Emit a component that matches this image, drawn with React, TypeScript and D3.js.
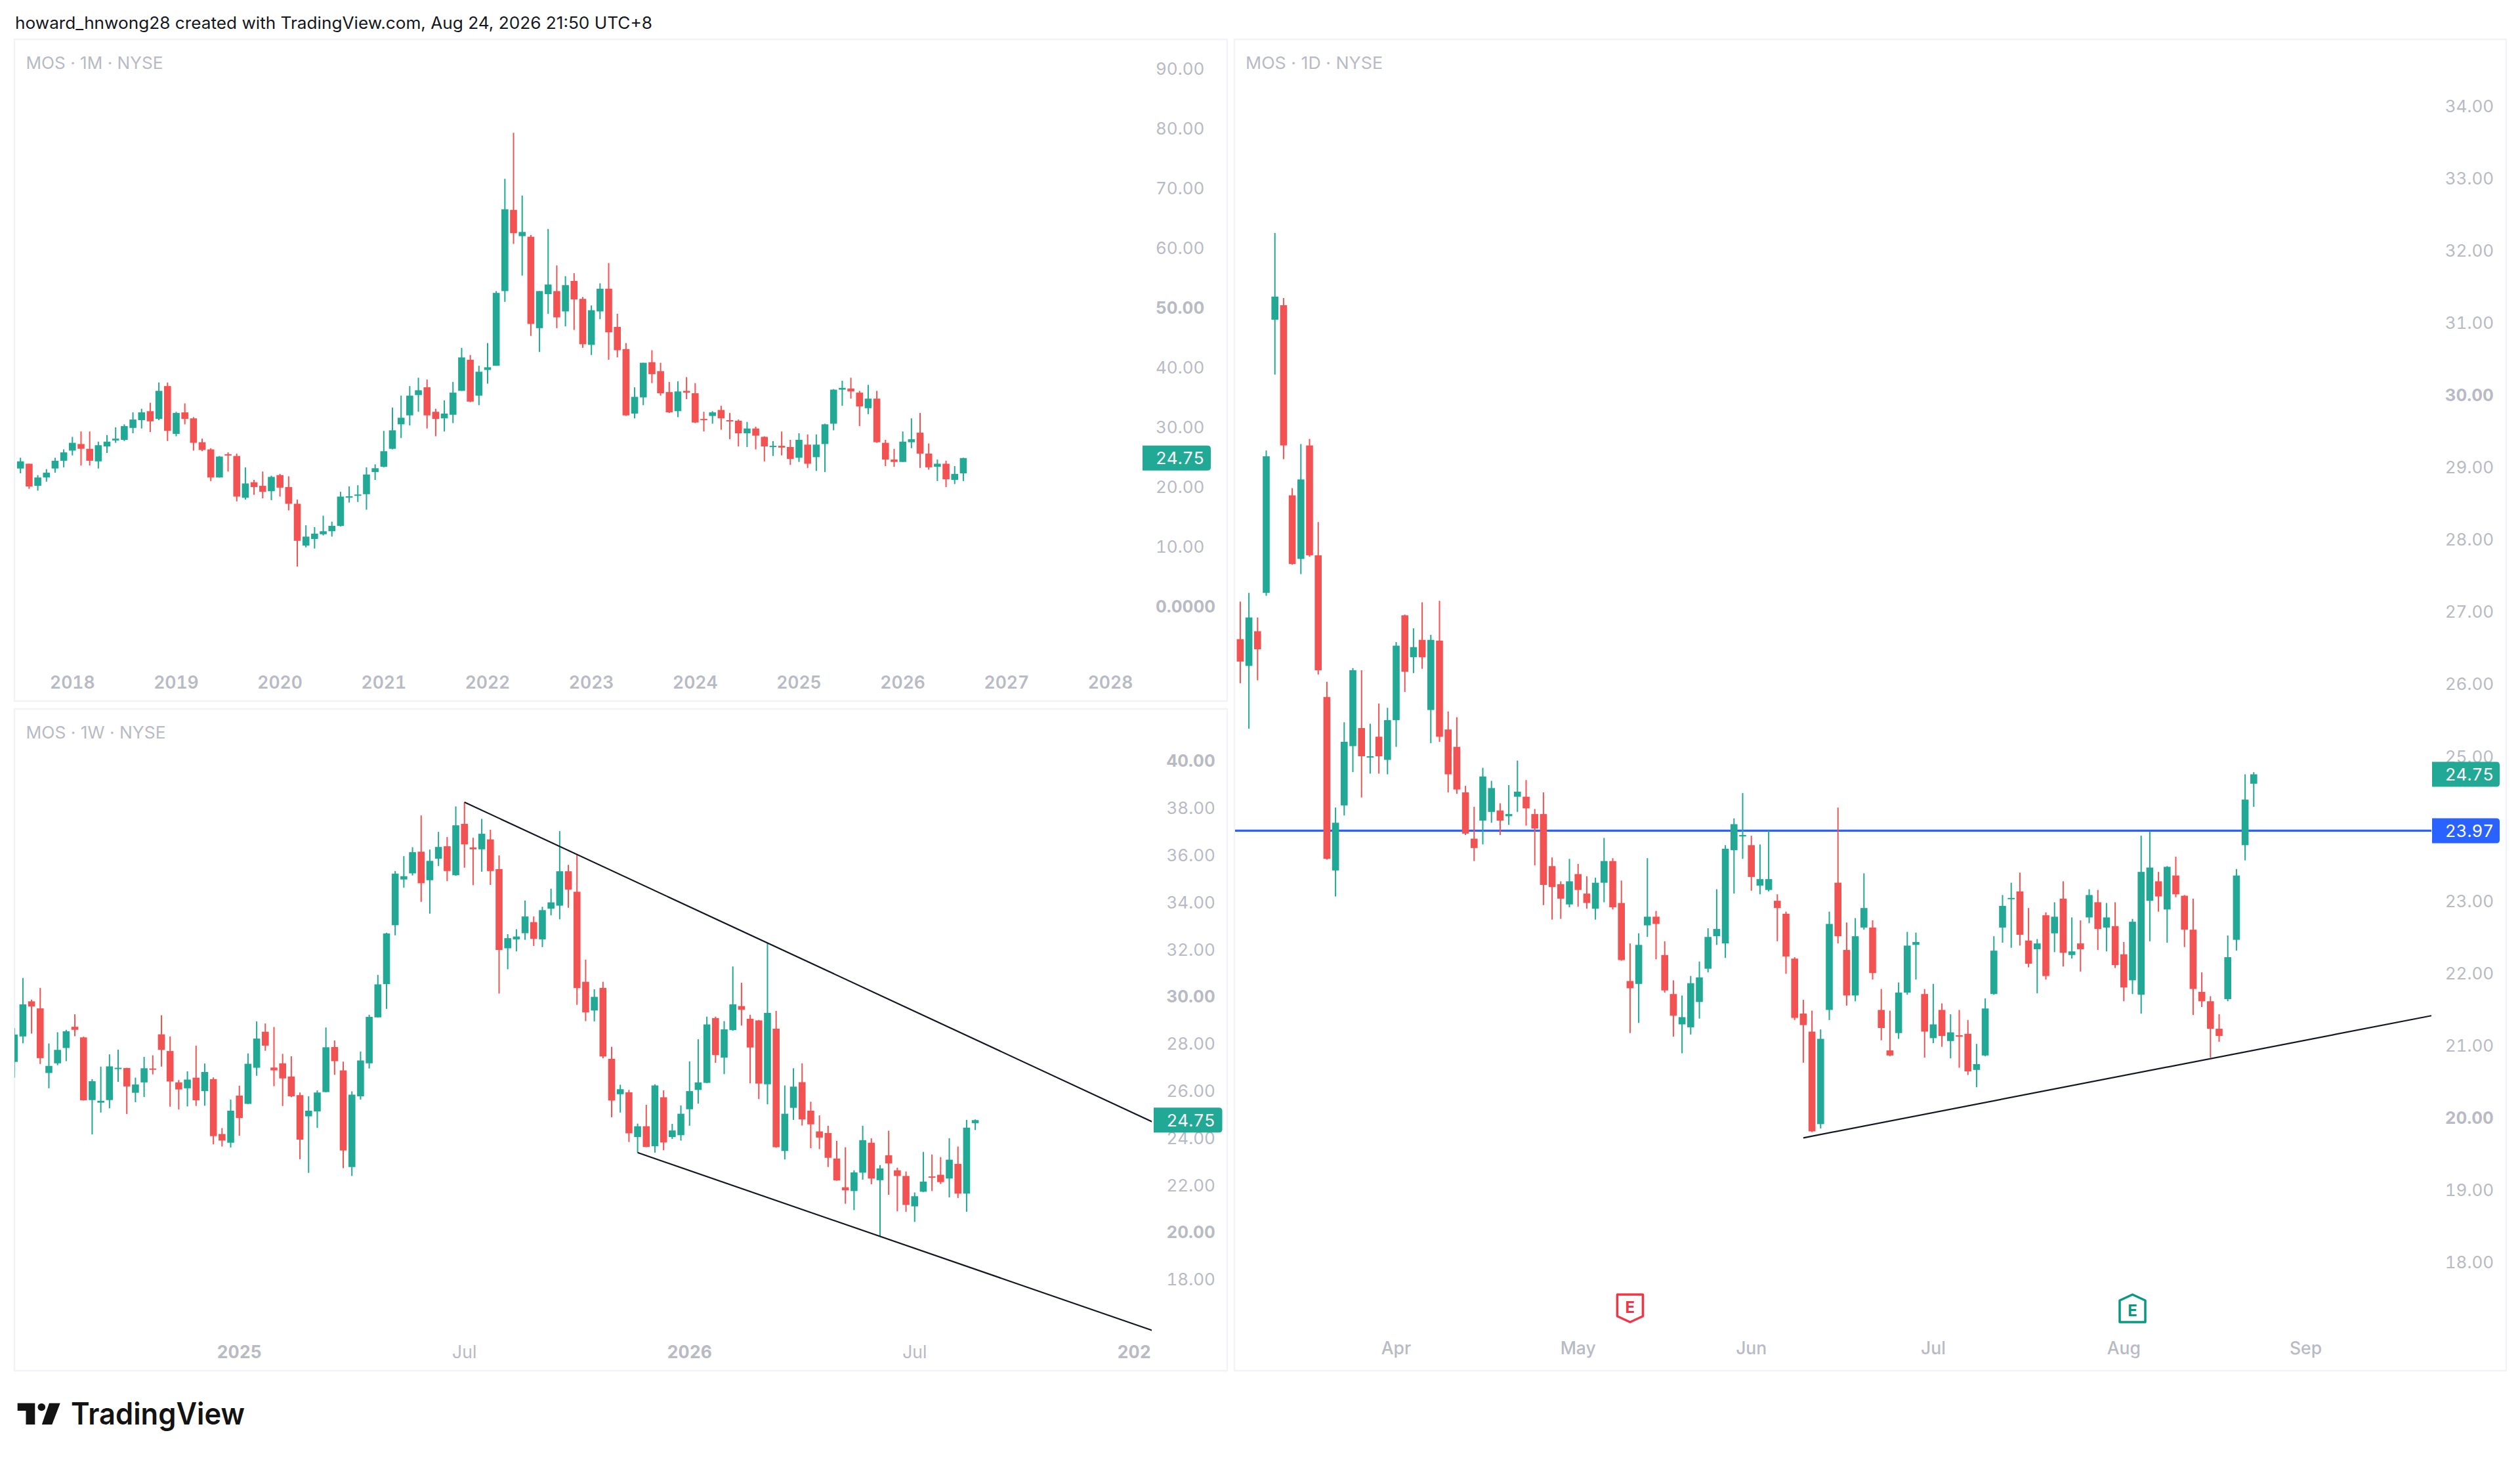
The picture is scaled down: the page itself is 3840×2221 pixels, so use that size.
import React from "react";
import * as d3 from "d3";

type Bar = [number, number, number, number]; // open, high, low, close

const headerText = "howard_hnwong28 created with TradingView.com, Aug 24, 2026 21:50 UTC+8";
const lastPrice = 24.75;
const levelPrice = 23.97;

const monthlyBars: Bar[] = [
[23.0,24.8,22.2,24.2],[23.8,23.8,19.6,20.0],[20.1,21.9,19.3,21.5],[21.5,22.9,20.8,22.3],[23.0,24.8,22.3,24.3],[24.3,26.2,23.2,25.7],
[26.0,28.3,25.2,27.3],[27.1,29.2,23.5,26.3],[26.3,29.2,23.5,24.3],[24.2,27.5,23.0,26.9],[26.7,28.6,25.6,27.5],[27.7,29.9,27.3,28.0],
[27.8,30.4,27.6,30.1],[29.8,32.4,28.9,31.2],[31.1,33.0,29.7,32.4],[32.6,34.0,29.1,30.9],[31.3,37.4,31.1,36.0],[36.8,37.4,27.6,29.3],
[28.8,32.5,28.4,32.3],[32.4,33.9,30.4,31.3],[31.4,31.6,26.0,27.3],[27.4,28.0,25.9,26.1],[26.2,26.4,20.9,21.5],[21.5,25.1,21.5,25.0],
[25.4,25.7,22.5,25.2],[25.1,25.5,17.5,18.3],[18.1,23.2,17.8,20.5],[20.7,21.1,18.6,19.9],[20.1,22.5,18.0,19.1],[19.2,21.8,17.7,21.6],
[21.9,22.1,18.3,19.8],[19.9,21.7,16.0,17.1],[17.1,17.8,6.6,10.9],[10.1,13.5,9.8,11.6],[11.2,13.2,9.6,12.1],[12.0,15.1,11.8,12.5],
[12.5,14.1,11.6,13.4],[13.4,19.1,13.3,18.3],[18.3,20.0,17.3,18.35],[18.55,20.2,17.4,18.65],[18.7,23.2,16.1,22.0],[22.4,23.7,21.1,23.05],
[23.3,29.3,23.2,25.9],[26.3,33.2,26.2,29.4],[30.4,35.2,28.1,31.5],[31.9,36.8,30.2,35.2],[35.3,38.2,32.5,36.1],[36.6,37.9,29.7,31.9],
[32.5,33.0,28.4,31.3],[31.4,34.4,29.2,32.2],[32.0,37.5,30.6,35.7],[36.0,43.2,36.0,41.6],[41.2,42.0,34.1,34.2],[35.2,40.2,33.6,39.2],
[39.5,44.0,37.2,39.95],[40.2,52.7,40.2,52.4],[52.7,71.5,50.9,66.4],[66.3,79.2,60.6,62.4],[61.9,68.7,55.3,62.6],[61.8,62.1,45.2,47.2],
[46.5,52.7,42.5,52.7],[52.2,63.1,48.9,53.8],[52.7,57.0,46.5,48.3],[49.3,55.2,46.8,53.7],[54.4,55.7,46.2,51.3],[51.4,51.7,43.2,43.8],
[43.7,50.3,42.0,49.5],[49.3,54.0,48.0,53.1],[53.1,57.4,41.2,45.8],[46.7,48.9,41.6,42.8],[43.0,44.0,31.8,31.9],[32.2,36.6,31.4,35.0],
[34.9,40.7,33.6,40.7],[40.8,42.8,37.3,38.8],[39.3,40.7,35.2,35.6],[35.8,37.5,32.3,32.4],[32.6,37.6,31.6,35.9],[36.0,38.3,34.6,35.7],
[35.6,37.3,30.6,30.7],[31.3,32.5,29.2,31.25],[31.8,32.6,30.5,32.4],[32.8,33.5,29.5,31.4],[31.1,32.3,27.9,30.9],[31.0,31.2,26.7,28.9],
[28.9,30.8,26.6,29.7],[29.7,30.0,26.2,28.5],[28.3,28.4,24.2,26.7],[26.7,27.6,25.1,26.8],[26.8,29.2,25.2,26.5],[26.6,27.8,23.6,24.6],
[24.8,28.9,24.1,27.8],[27.0,28.7,23.1,23.8],[24.9,28.7,22.6,27.0],[27.1,30.5,22.4,30.4],[30.5,36.3,29.4,36.2],[36.2,37.7,33.5,36.5],
[36.4,38.2,34.7,35.9],[35.7,36.0,30.1,33.4],[33.1,37.0,32.1,34.7],[34.7,36.0,27.3,27.4],[27.3,27.8,23.4,24.5],[24.5,26.3,23.3,24.1],
[24.1,29.2,24.1,27.5],[27.4,31.4,26.4,27.9],[29.0,32.3,23.1,25.5],[25.5,27.2,22.8,23.2],[23.3,24.5,20.9,23.8],[23.8,24.3,19.9,21.2],
[21.1,23.4,20.4,22.1],[22.2,24.8,20.9,24.75],
];

const weeklyBars: Bar[] = [
[27.22,28.66,26.55,28.38],[28.30,30.78,28.01,29.66],[29.79,29.86,28.42,29.57],[29.49,30.36,27.13,27.38],[26.75,28.00,26.10,27.05],[27.16,28.48,27.08,27.73],
[27.81,28.58,27.25,28.52],[28.71,29.24,28.31,28.58],[28.26,28.29,25.58,25.59],[25.60,26.49,24.14,26.40],[25.49,27.02,25.07,25.57],[25.60,27.54,25.25,27.03],
[26.94,27.74,26.37,26.97],[26.96,26.97,25.01,26.18],[25.91,26.55,25.51,26.26],[26.35,27.43,25.73,26.95],[26.94,27.50,26.69,26.90],[28.39,29.20,27.02,27.73],
[27.68,28.30,25.32,26.39],[26.35,26.45,25.20,26.05],[26.10,26.82,25.33,26.47],[26.55,27.91,25.35,25.59],[25.98,27.15,25.36,26.79],[26.49,26.56,23.72,24.07],
[24.16,24.41,23.63,23.88],[23.79,25.62,23.59,25.15],[25.79,26.21,24.09,24.84],[25.44,27.58,25.43,27.14],[26.97,28.94,26.63,28.21],[28.50,28.85,27.69,27.91],
[26.98,28.70,26.19,26.86],[27.16,27.56,25.35,26.52],[26.60,27.46,25.72,25.76],[25.81,25.92,23.09,23.92],[24.91,25.76,22.51,25.15],[25.12,26.01,24.42,25.92],
[25.94,28.68,25.93,27.84],[27.85,28.13,26.67,27.25],[26.86,27.23,22.71,23.46],[22.76,25.97,22.38,25.83],[25.76,27.66,25.62,27.28],[27.16,29.22,26.94,29.13],
[29.11,30.91,29.10,30.51],[30.52,32.70,29.47,32.67],[33.02,35.32,32.59,35.21],[34.96,35.95,34.61,35.10],[35.22,36.33,35.13,36.12],[36.14,37.68,34.01,34.80],
[34.93,36.23,33.51,35.75],[35.84,36.98,35.53,36.34],[36.37,36.76,34.89,35.32],[35.14,38.06,35.12,37.26],[37.32,38.24,35.46,36.45],[36.32,36.73,34.72,36.24],
[36.24,37.53,35.29,36.90],[36.66,37.07,34.73,35.32],[35.40,35.98,30.12,31.97],[32.04,32.64,31.15,32.47],[32.42,32.85,31.91,32.54],[32.68,34.07,32.40,33.39],
[33.15,33.39,32.14,32.44],[32.42,33.80,32.09,33.66],[33.72,34.57,33.44,33.99],[33.85,37.01,33.27,35.31],[35.31,35.58,33.76,34.53],[34.44,36.01,29.64,30.35],
[30.62,31.56,28.95,29.32],[29.40,30.30,28.94,29.98],[30.36,30.62,27.37,27.45],[27.35,27.86,24.87,25.58],[25.85,26.25,25.07,26.06],[25.93,26.03,23.82,24.19],
[24.03,24.60,23.37,24.49],[24.49,25.40,23.60,23.61],[23.64,26.27,23.37,26.22],[25.72,26.01,23.47,23.80],[24.03,24.59,23.95,24.31],[24.11,25.37,23.88,25.02],
[25.21,27.24,24.51,25.98],[26.03,28.18,25.45,26.35],[26.33,29.14,26.32,28.81],[29.08,29.14,27.18,27.51],[27.40,28.95,26.70,28.60],[28.57,31.27,28.54,29.66],
[29.59,30.58,28.76,29.43],[29.05,29.22,26.31,27.83],[28.98,29.00,25.64,26.30],[26.27,32.26,25.42,29.30],[28.63,29.38,23.58,23.60],[23.44,26.22,23.08,25.02],
[25.27,26.95,24.76,26.17],[26.36,27.16,24.52,24.78],[25.15,25.53,23.56,24.57],[24.27,24.95,23.52,24.01],[24.20,24.51,22.76,23.15],[23.12,23.87,22.18,22.19],
[21.90,23.60,21.20,21.77],[21.74,22.62,20.93,22.53],[22.52,24.51,22.22,23.90],[23.79,23.98,22.03,22.27],[22.20,22.84,19.81,22.70],[23.26,24.30,21.58,22.91],
[22.62,22.73,20.88,22.38],[22.38,22.57,20.86,21.15],[21.09,21.68,20.43,21.52],[21.71,23.40,21.70,22.14],[22.36,23.29,21.74,22.34],[22.43,23.18,22.04,22.12],
[22.27,23.98,21.47,23.07],[22.89,23.63,21.44,21.63],[21.63,24.76,20.86,24.43],[24.62,24.78,24.33,24.75],
];

const dailyBars: Bar[] = [
[26.62,27.14,26.01,26.31],[26.25,27.26,25.38,26.92],[26.73,26.92,26.05,26.48],[27.26,29.23,27.22,29.15],[31.04,32.24,30.28,31.36],[31.24,31.34,29.11,29.30],
[28.61,28.71,27.65,27.66],[27.73,29.32,27.52,28.83],[29.30,29.39,27.76,27.78],[27.78,28.24,26.13,26.19],[25.82,26.03,23.57,23.58],[23.42,24.29,23.06,24.08],
[24.32,25.47,24.18,25.20],[25.14,26.22,24.78,26.19],[25.39,26.19,24.43,25.00],[24.99,25.45,24.76,25.00],[25.27,25.73,24.76,25.00],[24.95,25.67,24.75,25.50],
[25.50,26.58,25.13,26.53],[26.95,26.96,25.89,26.17],[26.37,26.77,26.15,26.51],[26.61,27.13,26.21,26.37],[25.64,26.68,25.18,26.61],[26.60,27.15,25.20,25.27],
[25.37,25.62,24.50,24.75],[25.13,25.54,24.48,24.54],[24.50,24.59,23.91,23.93],[23.86,24.30,23.55,23.73],[24.11,24.84,23.78,24.72],[24.23,24.66,24.08,24.56],
[24.25,24.35,23.91,24.11],[24.17,24.60,24.05,24.20],[24.44,24.94,24.23,24.51],[24.44,24.67,24.04,24.28],[24.20,24.27,23.49,24.00],[24.20,24.50,22.94,23.22],
[23.48,23.60,22.74,23.19],[23.23,23.27,22.75,23.03],[22.95,23.58,22.91,23.27],[23.37,23.51,22.92,23.15],[23.10,23.34,22.89,22.97],[22.89,23.32,22.74,23.25],
[23.25,23.87,22.98,23.55],[23.55,23.59,22.88,22.91],[22.97,23.28,22.17,22.18],[21.89,22.41,21.17,21.79],[21.85,22.55,21.31,22.39],[22.66,23.59,22.50,22.78],
[22.78,22.86,22.19,22.68],[22.25,22.44,21.73,21.76],[21.71,21.90,21.12,21.41],[21.29,21.69,20.89,21.39],[21.25,21.96,21.15,21.86],[21.60,22.16,21.37,21.94],
[22.06,22.62,22.01,22.50],[22.51,23.16,22.39,22.61],[22.41,23.77,22.21,23.72],[23.70,24.14,23.10,24.06],[23.89,24.49,23.58,23.91],[23.77,23.90,23.14,23.33],
[23.21,23.78,23.09,23.30],[23.15,23.97,23.13,23.30],[23.00,23.09,22.44,22.90],[22.82,22.85,21.99,22.23],[22.20,22.22,21.35,21.38],[21.44,21.63,20.76,21.28],
[21.19,21.48,19.80,19.81],[19.91,21.22,19.85,21.09],[21.49,22.85,21.35,22.68],[23.25,24.29,22.41,22.51],[22.32,22.70,21.55,21.69],[21.69,22.76,21.61,22.51],
[22.63,23.38,22.60,22.90],[22.63,22.73,21.91,22.00],[21.49,21.78,21.07,21.24],[20.93,21.48,20.85,20.86],[21.17,21.87,21.09,21.73],[21.73,22.57,21.70,22.38],
[22.39,22.56,21.91,22.43],[21.71,21.78,20.83,21.19],[21.10,21.85,21.03,21.29],[21.49,21.58,20.98,21.13],[21.06,21.43,20.82,21.18],[21.14,21.49,20.69,21.12],
[21.16,21.35,20.59,20.64],[20.66,21.02,20.42,20.74],[20.86,21.65,20.85,21.51],[21.71,22.51,21.70,22.31],[22.63,23.08,22.42,22.93],[23.03,23.25,22.35,23.04],
[23.13,23.39,22.38,22.53],[22.45,22.90,22.08,22.13],[22.33,22.47,21.72,22.41],[22.80,22.84,21.91,21.96],[22.55,22.98,22.29,22.78],[23.03,23.27,22.09,22.28],
[22.25,22.77,22.20,22.30],[22.41,22.73,22.02,22.33],[22.77,23.16,22.69,23.08],[22.98,23.15,22.32,22.61],[22.63,22.97,22.30,22.77],[22.65,22.98,22.07,22.11],
[22.26,22.43,21.61,21.80],[21.90,22.75,21.71,22.71],[21.70,23.90,21.44,23.40],[23.00,23.96,22.44,23.46],[23.27,23.40,22.85,23.06],[22.88,23.48,22.42,23.47],
[23.35,23.61,23.05,23.09],[23.07,23.08,22.36,22.60],[22.60,23.03,21.42,21.78],[21.74,22.01,21.53,21.61],[21.61,21.68,20.83,21.23],[21.23,21.43,21.05,21.13],
[21.64,22.52,21.61,22.22],[22.46,23.44,22.31,23.35],[23.77,24.75,23.56,24.40],[24.62,24.78,24.30,24.75],
];

const monthlyPriceTicks = [90, 80, 70, 60, 50, 40, 30, 20, 10];
const monthlyBoldTicks = [50];
const monthlyTimeIdx = [6, 18, 30, 42, 54, 66, 78, 90, 102, 114, 126];
const monthlyTimeLabels = ["2018", "2019", "2020", "2021", "2022", "2023", "2024", "2025", "2026", "2027", "2028"];

const weeklyPriceTicks = [40, 38, 36, 34, 32, 30, 28, 26, 24, 22, 20, 18];
const weeklyBoldTicks = [40, 30, 20];
const weeklyTimeIdx = [26, 52, 78, 104, 130];
const weeklyTimeLabels = ["2025", "Jul", "2026", "Jul", "2027"];
const weeklyBoldTimes = ["2025", "2026", "2027"];
const weeklyUpperTrend: [number, number][] = [[52, 38.24], [131.5, 24.67]];
const weeklyLowerTrend: [number, number][] = [[72, 23.37], [131.5, 15.82]];

const dailyPriceTicks = [34, 33, 32, 31, 30, 29, 28, 27, 26, 25, 24, 23, 22, 21, 20, 19, 18];
const dailyBoldTicks = [30, 20];
const dailyTimeIdx = [18, 39, 59, 80, 102, 123];
const dailyTimeLabels = ["Apr", "May", "Jun", "Jul", "Aug", "Sep"];
const dailySupport: [number, number][] = [[65, 19.72], [137.5, 21.41]];
const earningsIdx = [45, 103];
const earningsKind = ["past", "next"];

const GREEN = "#22a995";
const RED = "#f35252";
const MUTED = "#b8bac4";
const BORDER = "#f1f3f8";
const FONT = "Inter, 'Noto Sans', sans-serif";
const TABULAR = { fontVariantNumeric: "tabular-nums" } as React.CSSProperties;

const xM = d3.scaleLinear().domain([6, 126]).range([110.3, 1692]);
const yM = d3.scaleLinear().domain([0, 90]).range([923, 104]);
const xW = d3.scaleLinear().domain([0, 104]).range([21.7, 1393.75]);
const yW = d3.scaleLinear().domain([20, 40]).range([1876.8, 1158.8]);
const xD = d3.scaleLinear().domain([0, 117]).range([1889.9, 3434.3]);
const yD = d3.scaleLinear().domain([20, 30]).range([1702.5, 601.5]);

type Scale = d3.ScaleLinear<number, number>;

function Candles({ bars, x, y }: { bars: Bar[]; x: Scale; y: Scale }) {
  const w = 10.6;
  return (
    <g>
      {bars.map(([o, h, l, c], i) => {
        const col = c >= o ? GREEN : RED;
        const top = y(Math.max(o, c));
        const bot = y(Math.min(o, c));
        const cx = x(i);
        return (
          <g key={i}>
            <line x1={cx} x2={cx} y1={y(h)} y2={y(l)} stroke={col} strokeWidth={2} />
            <rect x={cx - w / 2} y={top} width={w} height={Math.max(bot - top, 2)} fill={col} />
          </g>
        );
      })}
    </g>
  );
}

function Trend({ pts, x, y }: { pts: [number, number][]; x: Scale; y: Scale }) {
  const path = d3.line<[number, number]>().x((d) => x(d[0])).y((d) => y(d[1]))(pts) as string;
  return <path d={path} fill="none" stroke="#131722" strokeWidth={2.2} />;
}

function Badge({ x0, x1, cy, text, fill, tx }: { x0: number; x1: number; cy: number; text: string; fill: string; tx: number }) {
  const h = 38;
  const r = 5;
  const d = `M${x0},${cy - h / 2}H${x1 - r}Q${x1},${cy - h / 2} ${x1},${cy - h / 2 + r}V${cy + h / 2 - r}Q${x1},${cy + h / 2} ${x1 - r},${cy + h / 2}H${x0}Z`;
  return (
    <g>
      <path d={d} fill={fill} />
      <text x={tx} y={cy} fill="#fff" fontSize={26} fontFamily={FONT} style={TABULAR} dominantBaseline="central">{text}</text>
    </g>
  );
}

function PriceLabels({ ticks, bold, y, x }: { ticks: number[]; bold: number[]; y: Scale; x: number }) {
  return (
    <g>
      {ticks.map((t) => (
        <text key={t} x={x} y={y(t)} fill={MUTED} fontSize={26} fontWeight={bold.includes(t) ? 700 : 400}
          fontFamily={FONT} style={TABULAR} dominantBaseline="central">{t.toFixed(2)}</text>
      ))}
    </g>
  );
}

function TimeLabels({ idx, labels, x, y, weightOf }: { idx: number[]; labels: string[]; x: Scale; y: number; weightOf: (s: string) => number }) {
  return (
    <g>
      {idx.map((v, i) => (
        <text key={labels[i] + v} x={x(v)} y={y} fill={MUTED} fontSize={26.5} fontWeight={weightOf(labels[i])}
          fontFamily={FONT} style={TABULAR} textAnchor="middle" dominantBaseline="central">{labels[i]}</text>
      ))}
    </g>
  );
}

function EarningsMark({ cx, cy, kind }: { cx: number; cy: number; kind: string }) {
  const col = kind === "past" ? "#f23645" : "#089981";
  const up = kind !== "past";
  const hw = 19.5, hh = 21, tip = 9;
  const d = up
    ? `M${cx},${cy - hh}L${cx + hw},${cy - hh + tip}V${cy + hh}H${cx - hw}V${cy - hh + tip}Z`
    : `M${cx},${cy + hh}L${cx + hw},${cy + hh - tip}V${cy - hh}H${cx - hw}V${cy + hh - tip}Z`;
  return (
    <g>
      <path d={d} fill="#fff" stroke={col} strokeWidth={3.5} strokeLinejoin="round" />
      <text x={cx} y={cy + (up ? 3 : -2)} fill={col} fontSize={24} fontWeight={700} fontFamily={FONT}
        textAnchor="middle" dominantBaseline="central">E</text>
    </g>
  );
}

export default function App() {
  return (
    <svg width={3840} height={2221} viewBox="0 0 3840 2221"
      style={{ position: "absolute", left: 0, top: 0, display: "block", background: "#fff" }}>
      <defs>
        <clipPath id="wclip"><rect x={22} y={1080} width={1733} height={1008} /></clipPath>
      </defs>
      <rect width={3840} height={2221} fill="#fff" />
      <text x={23} y={35} fontSize={25} fill="#131722" fontFamily={FONT} dominantBaseline="central"
        textLength={971} lengthAdjust="spacingAndGlyphs">{headerText}</text>

      {[[22, 60, 1848, 1008], [22, 1080, 1848, 1008], [1881, 60, 1938, 2028]].map(([x, y, w, h], i) => (
        <rect key={i} x={x} y={y} width={w} height={h} fill="#fff" stroke={BORDER} strokeWidth={2.5} />
      ))}

      {/* Monthly */}
      <text x={39.5} y={95} fontSize={26} fill={MUTED} fontFamily={FONT} dominantBaseline="central"
        textLength={209} lengthAdjust="spacingAndGlyphs">MOS · 1M · NYSE</text>
      <PriceLabels ticks={monthlyPriceTicks} bold={monthlyBoldTicks} y={yM} x={1761} />
      <text x={1761} y={yM(0)} fill={MUTED} fontSize={26} fontWeight={700} fontFamily={FONT} style={TABULAR} dominantBaseline="central">0.0000</text>
      <TimeLabels idx={monthlyTimeIdx} labels={monthlyTimeLabels} x={xM} y={1039} weightOf={() => 600} />
      <Candles bars={monthlyBars} x={xM} y={yM} />
      <Badge x0={1741} x1={1845} cy={yM(lastPrice)} text={lastPrice.toFixed(2)} fill={GREEN} tx={1761} />

      {/* Weekly */}
      <text x={39.5} y={1115} fontSize={26} fill={MUTED} fontFamily={FONT} dominantBaseline="central"
        textLength={213} lengthAdjust="spacingAndGlyphs">MOS · 1W · NYSE</text>
      <PriceLabels ticks={weeklyPriceTicks} bold={weeklyBoldTicks} y={yW} x={1777.5} />
      <g clipPath="url(#wclip)">
        <TimeLabels idx={weeklyTimeIdx} labels={weeklyTimeLabels} x={xW} y={2059}
          weightOf={(s) => (weeklyBoldTimes.includes(s) ? 700 : 400)} />
        <Candles bars={weeklyBars} x={xW} y={yW} />
        <Trend pts={weeklyUpperTrend} x={xW} y={yW} />
        <Trend pts={weeklyLowerTrend} x={xW} y={yW} />
      </g>
      <Badge x0={1758} x1={1862.5} cy={yW(lastPrice)} text={lastPrice.toFixed(2)} fill={GREEN} tx={1777.5} />

      {/* Daily */}
      <text x={1898} y={95} fontSize={26} fill={MUTED} fontFamily={FONT} dominantBaseline="central"
        textLength={209} lengthAdjust="spacingAndGlyphs">MOS · 1D · NYSE</text>
      <PriceLabels ticks={dailyPriceTicks} bold={dailyBoldTicks} y={yD} x={3725.7} />
      <TimeLabels idx={dailyTimeIdx} labels={dailyTimeLabels} x={xD} y={2053} weightOf={() => 500} />
      <line x1={1882} x2={3705} y1={yD(levelPrice)} y2={yD(levelPrice)} stroke="#2962ff" strokeWidth={3.2} />
      <Candles bars={dailyBars} x={xD} y={yD} />
      <Trend pts={dailySupport} x={xD} y={yD} />
      {earningsIdx.map((v, i) => <EarningsMark key={v} cx={xD(v)} cy={1993} kind={earningsKind[i]} />)}
      <Badge x0={3706} x1={3809} cy={yD(lastPrice)} text={lastPrice.toFixed(2)} fill={GREEN} tx={3725.7} />
      <Badge x0={3706} x1={3809} cy={yD(levelPrice)} text={levelPrice.toFixed(2)} fill="#2962ff" tx={3725.7} />

      {/* Logo */}
      <g fill="#131313">
        <path d="M26.7,2137.5H53.3V2170H39.5V2149H26.7Z" />
        <circle cx={63.3} cy={2143.5} r={5.8} />
        <path d="M75,2137.5H91.7L79.3,2170H63.8Z" />
      </g>
      <text x={108} y={2170} fontSize={46} fontWeight={600} fill="#131313" fontFamily={FONT}
        textLength={265} lengthAdjust="spacingAndGlyphs">TradingView</text>
    </svg>
  );
}
